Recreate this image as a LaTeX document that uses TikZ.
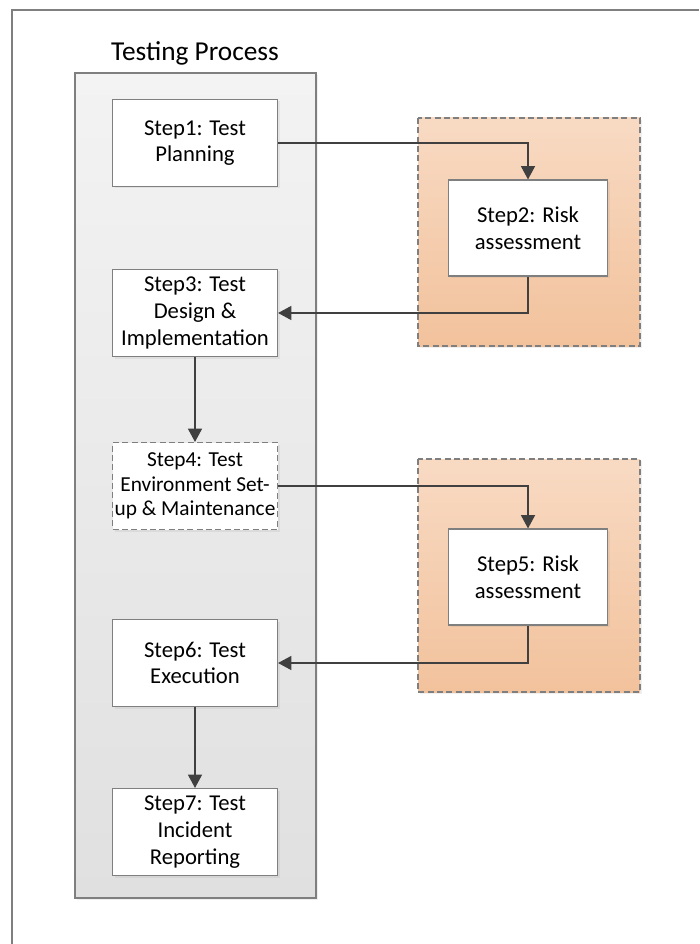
\documentclass[tikz,border=0pt]{standalone}
\usepackage{fontspec}
\setmainfont{Carlito}
\usepackage{xcolor}
\usetikzlibrary{arrows.meta,shadows}

\definecolor{linegray}{HTML}{404040}
\definecolor{boxgray}{HTML}{7F7F7F}
\definecolor{grouptop}{HTML}{F3F3F3}
\definecolor{groupbot}{HTML}{E0E0E0}
\definecolor{risktop}{HTML}{F8DAC3}
\definecolor{riskbot}{HTML}{F2C29C}

\begin{document}
\begin{tikzpicture}[x=0.75pt,y=-0.75pt]
            \tikzstyle{every node}+=[inner sep=0pt]
            \tikzstyle{stepbox}=[draw=boxgray, fill=white, line width=0.8pt,
              minimum width=123.75pt, minimum height=65.25pt, align=center,
              font=\fontsize{17}{20}\selectfont,
              drop shadow={opacity=0.12, shadow xshift=1.5pt, shadow yshift=-1.5pt}]
            \tikzstyle{riskbox}=[stepbox, minimum width=119.25pt, minimum height=72pt]
            \tikzstyle{riskarea}=[draw=boxgray, line width=0.8pt, dash pattern=on 4.5pt off 2.5pt,
              top color=risktop, bottom color=riskbot,
              drop shadow={opacity=0.12, shadow xshift=1.5pt, shadow yshift=-1.5pt}]
            \tikzstyle{flow}=[draw=linegray, line width=1.1pt, -{Triangle[length=10pt,width=10.5pt]}]
            \useasboundingbox (0,0) rectangle (699,944);
            % page frame
            \draw [boxgray, line width=0.8pt] (12,944) -- (12,10) -- (699,10);
            % testing process group
            \path [draw=boxgray, line width=0.8pt, top color=grouptop, bottom color=groupbot,
              drop shadow={opacity=0.12, shadow xshift=1.5pt, shadow yshift=-1.5pt}]
              (75,73) rectangle (316,898);
            \node (title) at (195,53) {\fontsize{20.5}{24}\selectfont Testing Process};
            % risk areas
            \path [riskarea] (418,118) rectangle (640,346);
            \path [riskarea] (418,459) rectangle (640,692);
            % steps
            \node [stepbox] (s1) at (195,143) {Step1: Test\\Planning};
            \node [riskbox] (s2) at (528,228) {Step2: Risk\\assessment};
            \node [stepbox] (s3) at (195,313) {Step3: Test\\Design \&\\Implementation};
            \node [stepbox, dash pattern=on 4.5pt off 2.5pt, font=\fontsize{16}{18.4}\selectfont]
              (s4) at (195,486) {Step4: Test\\Environment Set-\\up \& Maintenance};
            \node [riskbox] (s5) at (528,577) {Step5: Risk\\assessment};
            \node [stepbox] (s6) at (195,663) {Step6: Test\\Execution};
            \node [stepbox] (s7) at (195,832) {Step7: Test\\Incident\\Reporting};
            % connectors
            \draw [flow] (s1.east) -| (s2.north);
            \draw [flow] (s2.south) |- (s3.east);
            \draw [flow] (s3) -- (s4);
            \draw [flow] (s4.east) -| (s5.north);
            \draw [flow] (s5.south) |- (s6.east);
            \draw [flow] (s6) -- (s7);
\end{tikzpicture}
\end{document}
